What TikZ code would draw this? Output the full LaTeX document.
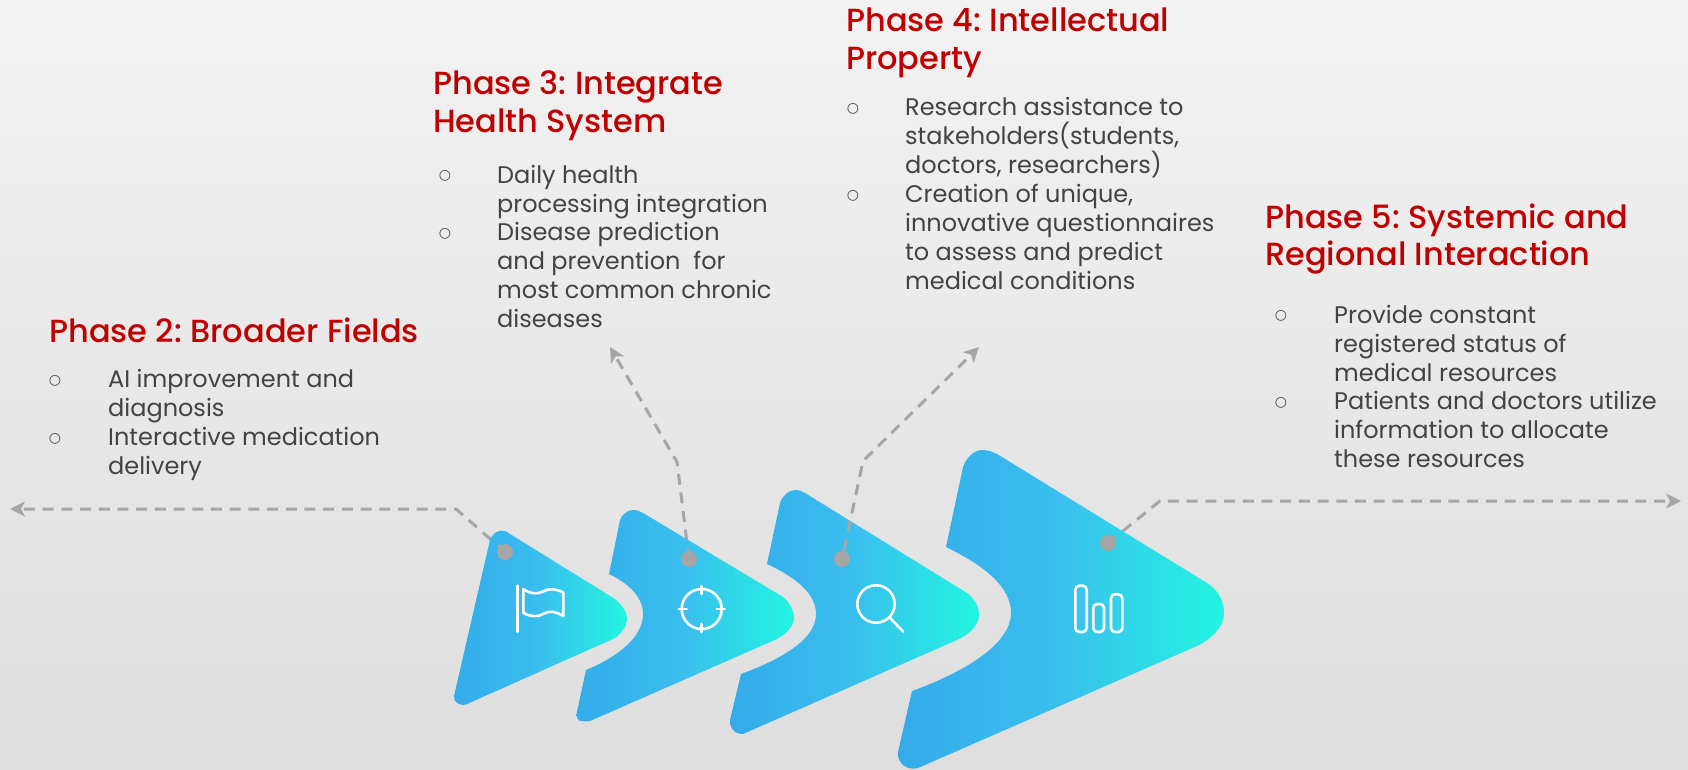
\documentclass[tikz,border=0pt]{standalone}
\usepackage{fontspec}
\setmainfont{Poppins}
\newfontfamily\titlefont{Poppins Medium}
\newfontfamily\symfont{DejaVu Sans}
\usetikzlibrary{arrows.meta}
\frenchspacing
\pgfdeclarelayer{paper}
\pgfdeclarelayer{lines}
\pgfdeclarelayer{shapes}
\pgfsetlayers{paper,lines,shapes,main}
\definecolor{titlered}{HTML}{C00000}
\definecolor{bodygrey}{HTML}{434343}
\definecolor{linegrey}{HTML}{A6A6A6}
\definecolor{bluea}{HTML}{33ABE9}
\definecolor{blueb}{HTML}{3ABFEE}
\definecolor{bluec}{HTML}{22F5E0}
\tikzset{
  phasetitle/.style={anchor=base west,inner sep=0pt,align=left,text=titlered,
    font=\titlefont\fontsize{32}{37.7}\selectfont},
  itemtext/.style={anchor=base west,inner sep=0pt,align=left,text=bodygrey,
    font=\fontsize{24}{29}\selectfont},
  bulletmark/.style={anchor=center,inner sep=0pt,text=bodygrey,
    font=\symfont\fontsize{14}{14}\selectfont},
  chevron/.style={left color=bluea,right color=bluec,middle color=blueb,draw=none},
  lead/.style={draw=linegrey,line width=3pt,dash pattern=on 11pt off 7.7pt},
  leadtip/.style={-{Stealth[length=15pt,width=15pt,inset=4pt]}},
  dotmark/.style={circle,fill=linegrey,draw=none,minimum size=16pt,inner sep=0pt},
  nub/.style={draw=linegrey,line width=2.5pt},
  glyph/.style={draw=white,line width=2.6pt,line cap=round,line join=round},
}
\begin{document}
\begin{tikzpicture}[x=1pt,y=-1pt]
\useasboundingbox (0,0) rectangle (1688,770);
\begin{pgfonlayer}{paper}
  \fill[top color=white!95!black,bottom color=white!87!black] (0,0) rectangle (1688,770);
\end{pgfonlayer}

% chevrons
\begin{pgfonlayer}{shapes}
\path[chevron] (490,540) .. controls (493,533) and (497,530.7) .. (502,530.7)
  .. controls (505,530.7) and (508,532) .. (510,534) -- (615,599)
  .. controls (622,605) and (627,612) .. (627,618)
  .. controls (627,626) and (621,635) .. (613,639) -- (467,704)
  .. controls (460,707) and (453,702) .. (454,696) -- cycle;
\path[chevron] (620,520) .. controls (622,514) and (628,510) .. (633,510)
  .. controls (637,510) and (640,511) .. (643,513) -- (783,597)
  .. controls (790,603) and (794,611) .. (794,618)
  .. controls (794,626) and (786,634) .. (777,639) -- (590,721)
  .. controls (586,722) and (582,721) .. (579,720.5)
  .. controls (577,719) and (576,716) .. (577,712) -- (586,670)
  .. controls (620,656) and (643,636) .. (643,614)
  .. controls (643,598) and (630,584) .. (609,574) -- cycle;
\path[chevron] (780,503) .. controls (782,496) and (789,490) .. (795,490)
  .. controls (799,490) and (802,491) .. (805,493) -- (967,593)
  .. controls (974,598) and (979,606) .. (979,615)
  .. controls (979,626) and (968,635) .. (957,640) -- (743,734)
  .. controls (736,735) and (729,728) .. (730,720) -- (741,674)
  .. controls (785,658) and (816,638) .. (816,614)
  .. controls (816,594) and (797,578) .. (767,564) -- cycle;
\path[chevron] (963,467) .. controls (966,458) and (974,450) .. (982,450)
  .. controls (988,450) and (993,452) .. (997,454) -- (1207,583)
  .. controls (1218,590) and (1224,601) .. (1224,613)
  .. controls (1224,628) and (1210,640) .. (1197,646) -- (918,768)
  .. controls (908,771) and (897,764) .. (898,752) -- (912,691)
  .. controls (970,670) and (1011,642) .. (1011,613)
  .. controls (1011,587) and (985,566) .. (946,547) -- cycle;
\end{pgfonlayer}

% dots
\node[dotmark] (d1) at (505,552) {};
\node[dotmark] (d2) at (689,559) {};
\node[dotmark] (d3) at (842,559) {};
\node[dotmark] (d4) at (1108,543) {};
\coordinate (n1) at (498,545);
\coordinate (n2) at (688,548);
\coordinate (n3) at (844,550);
\coordinate (n4) at (1116,537);
\draw[nub] (d1.center) -- (n1);
\draw[nub] (d2.center) -- (n2);
\draw[nub] (d3.center) -- (n3);
\draw[nub] (d4.center) -- (n4);

% connectors
\coordinate (b1) at (456,509); \coordinate (e1) at (10,509);
\coordinate (b2) at (677,462); \coordinate (e2) at (610,347);
\coordinate (b3) at (863,461); \coordinate (e3) at (979,347);
\coordinate (b4) at (1160,501); \coordinate (e4) at (1681,501);
\begin{pgfonlayer}{lines}
\draw[lead,leadtip] (d1.center) -- (b1) -- (e1);
\draw[lead,leadtip] (d2.center) -- (b2) -- (e2);
\draw[lead,leadtip] (d4.center) -- (b4) -- (e4);
\end{pgfonlayer}
\draw[lead,leadtip] (n3) -- (b3) -- (e3);

% icons
\draw[glyph] (517.7,585.7) -- (517.7,631.7);
\draw[glyph,line cap=butt] (523.3,589) .. controls (530,594) and (537,594.5) .. (543,591.5)
  .. controls (549,588) and (556,588.5) .. (563.3,592.7)
  -- (563.3,616) .. controls (557,612) and (550,610) .. (544,613.5)
  .. controls (538,617.5) and (530,617) .. (523.3,612.7) -- cycle;
\draw[glyph] (701.7,609) circle[radius=20];
\draw[glyph] (701.7,586) -- (701.7,594) (701.7,624) -- (701.7,632)
  (678.7,609) -- (686.7,609) (716.7,609) -- (724.7,609);
\draw[glyph] (876,604) circle[radius=18.7];
\draw[glyph] (889.3,617.3) -- (903.3,631.7);
\draw[glyph,rounded corners=4pt] (1075.3,585.7) rectangle (1086.7,632);
\draw[glyph,rounded corners=4pt] (1093.3,604) rectangle (1104,632);
\draw[glyph,rounded corners=4pt] (1111,594.3) rectangle (1122.3,632);

% Phase 2
\node[phasetitle] (t2) at (49,342) {Phase 2: Broader Fields};
\node[bulletmark] (b21) at (55,381) {○};
\node[itemtext] (i21) at (108,416) {AI improvement and\\diagnosis};
\node[bulletmark] (b22) at (55,439) {○};
\node[itemtext] (i22) at (108,474) {Interactive medication\\delivery};

% Phase 3
\node[phasetitle] (t3) at (433,132.7) {Phase 3: Integrate\\Health System};
\node[bulletmark] (b31) at (445,176) {○};
\node[itemtext] (i31) at (497,212) {Daily health\\processing integration};
\node[bulletmark] (b32) at (445,234) {○};
\node[itemtext] (i32) at (497,327.5) {Disease prediction\\and prevention\ \ for\\most common chronic\\diseases};

% Phase 4
\node[phasetitle] (t4) at (846,69.7) {Phase 4: Intellectual\\Property};
\node[bulletmark] (b41) at (853,109) {○};
\node[itemtext] (i41) at (905,174) {Research assistance to\\stakeholders(students,\\doctors, researchers)};
\node[bulletmark] (b42) at (853,196) {○};
\node[itemtext] (i42) at (905,289) {Creation of unique,\\innovative questionnaires\\to assess and predict\\medical conditions};

% Phase 5
\node[phasetitle] (t5) at (1265,265.7) {Phase 5: Systemic and\\Regional Interaction};
\node[bulletmark] (b51) at (1281,316) {○};
\node[itemtext] (i51) at (1334,381) {Provide constant\\registered status of\\medical resources};
\node[bulletmark] (b52) at (1281,403) {○};
\node[itemtext] (i52) at (1334,467) {Patients and doctors utilize\\information to allocate\\these resources};
\end{tikzpicture}
\end{document}
